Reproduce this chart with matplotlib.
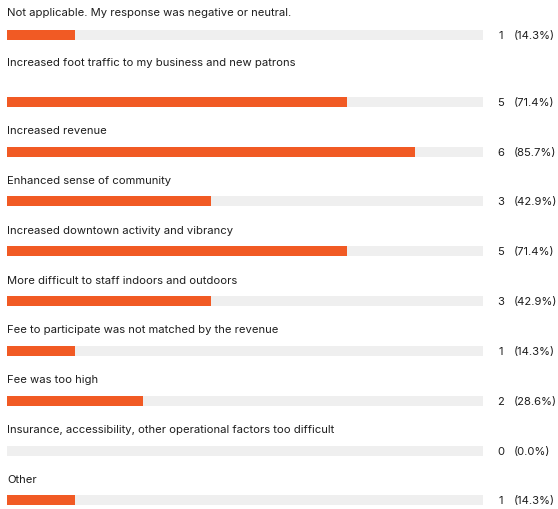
import matplotlib
matplotlib.use("Agg")
import matplotlib.pyplot as plt
from matplotlib.transforms import blended_transform_factory

plt.rcParams["font.family"] = ["Inter", "DejaVu Sans"]

categories = [
    "Not applicable. My response was negative or neutral.",
    "Increased foot traffic to my business and new patrons",
    "Increased revenue",
    "Enhanced sense of community",
    "Increased downtown activity and vibrancy",
    "More difficult to staff indoors and outdoors",
    "Fee to participate was not matched by the revenue",
    "Fee was too high",
    "Insurance, accessibility, other operational factors too difficult",
    "Other",
]
counts = [1, 5, 6, 3, 5, 3, 1, 2, 0, 1]
percents = [14.3, 71.4, 85.7, 42.9, 71.4, 42.9, 14.3, 28.6, 0.0, 14.3]
total = 7

# layout (pixel rows, top-down)
bar_rows = [36, 103, 153, 202, 252, 302, 352, 402, 452, 501]
label_rows = [13, 63, 131, 181, 231, 281, 330, 380, 430, 480]

W, H = 558, 510
fig = plt.figure(figsize=(W / 100, H / 100), dpi=100)
fig.patch.set_facecolor("white")
ax = fig.add_axes([7 / W, 0, 476 / W, 1])
ax.set_xlim(0, total)
ax.set_ylim(H, 0)
ax.axis("off")

orange = "#f15a24"
track = "#efefef"
txt = "#1e1e1e"
fs = 8.1

ax.barh(bar_rows, [total] * len(counts), height=10, color=track, linewidth=0)
ax.barh(bar_rows, counts, height=10, color=orange, linewidth=0)

fig_px = blended_transform_factory(fig.dpi_scale_trans, ax.transData)
for cat, ly in zip(categories, label_rows):
    ax.text(0, ly, cat, ha="left", va="center", fontsize=fs, color=txt)

for c, p, by in zip(counts, percents, bar_rows):
    ax.text(501 / 100, by, f"{c}", transform=fig_px, ha="center", va="center",
            fontsize=fs, color=txt)
    ax.text(514 / 100, by, f"({p:.1f}%)", transform=fig_px, ha="left", va="center",
            fontsize=fs, color=txt)

fig.savefig("out.png", dpi=100, facecolor="white")
